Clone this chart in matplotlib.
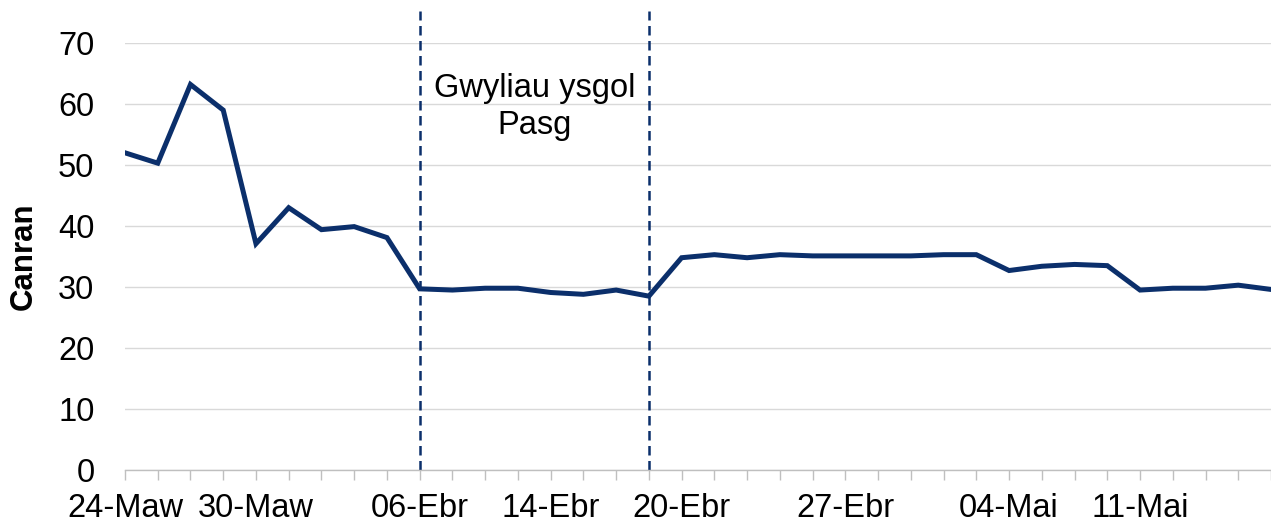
import matplotlib
matplotlib.use("Agg")
import matplotlib.pyplot as plt

plt.rcParams['font.family'] = ['Liberation Sans', 'DejaVu Sans']

# Percentage per working day (chart is cropped on the right, last point just off-canvas)
values = [52.0, 50.3, 63.2, 59.0, 37.1, 43.0, 39.4, 39.9, 38.1, 29.7,
          29.5, 29.8, 29.8, 29.1, 28.8, 29.5, 28.5, 34.8, 35.3, 34.8,
          35.3, 35.1, 35.1, 35.1, 35.1, 35.3, 35.3, 32.7, 33.4, 33.7,
          33.5, 29.5, 29.8, 29.8, 30.3, 29.6]

# Category labels (only some dates are labelled on the axis)
tick_labels = ["24-Maw", "", "", "", "30-Maw", "", "", "", "", "06-Ebr",
               "", "", "", "14-Ebr", "", "", "", "20-Ebr", "", "",
               "", "", "27-Ebr", "", "", "", "", "04-Mai", "", "",
               "", "11-Mai", "", "", "", ""]

# Easter school holiday boundaries (category index)
holiday_start = 9
holiday_end = 16
holiday_text = "Gwyliau ysgol\nPasg"

navy = "#0b2f6b"
grid_grey = "#d9d9d9"
axis_grey = "#bfbfbf"

W, H = 1271, 522
fig = plt.figure(figsize=(W / 100, H / 100), dpi=100)
ax = fig.add_axes([125 / W, 52 / H, 1146 / W, 427 / H])

x = list(range(len(values)))
ax.plot(x, values, color=navy, lw=3.6, solid_joinstyle="miter", zorder=3)

ax.set_xlim(0, 34.73)
ax.set_ylim(0, 70)
ax.set_yticks(range(0, 71, 10))
ax.set_xticks(x)
ax.set_xticklabels(tick_labels)

ax.grid(axis="y", color=grid_grey, lw=1)
ax.set_axisbelow(True)
for side in ["top", "right", "left"]:
    ax.spines[side].set_visible(False)
ax.spines["bottom"].set_color(axis_grey)
ax.spines["bottom"].set_linewidth(1)

ax.tick_params(axis="x", length=7, width=1, color=axis_grey, pad=9.5,
               labelsize=23.5, labelcolor="black")
ax.tick_params(axis="y", length=0, pad=22, labelsize=23.5, labelcolor="black")

ax.set_ylabel("Canran", fontsize=22.5, fontweight="bold")
ax.yaxis.set_label_coords(-0.075, 0.5)

# holiday markers
for xv in (holiday_start, holiday_end):
    ax.axvline(xv, ymin=0, ymax=1.075, color=navy, lw=1.8,
               ls=(0, (3.8, 2.2)), clip_on=False, zorder=2)

ax.text((holiday_start + holiday_end) / 2, 59.5, holiday_text,
        ha="center", va="center", fontsize=23.5, linespacing=1.25)

fig.savefig("out.png", dpi=100)
